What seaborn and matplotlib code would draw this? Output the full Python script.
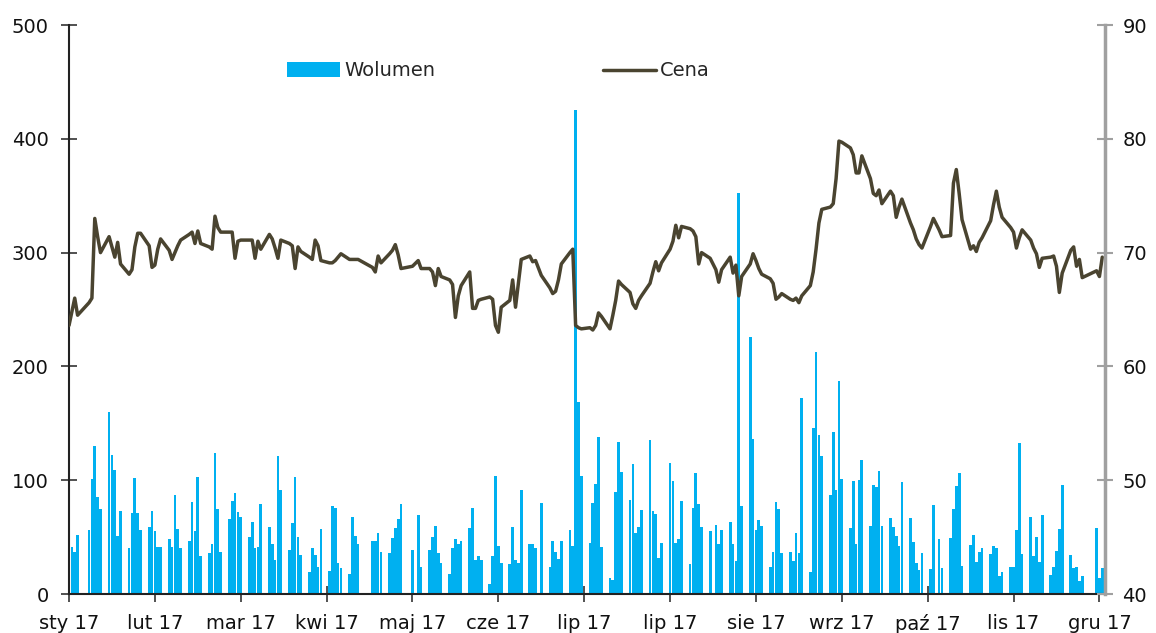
import numpy as np
import pandas as pd
import seaborn as sns
import matplotlib.pyplot as plt
import matplotlib.dates as mdates
from matplotlib.patches import Patch
from matplotlib.lines import Line2D

# trading days 2017 (GPW holidays removed)
holidays = ["2017-01-06", "2017-04-14", "2017-04-17", "2017-05-01", "2017-05-03",
            "2017-06-15", "2017-08-15", "2017-11-01", "2017-12-25", "2017-12-26"]

# daily volume, one row per week
volume = [
    7, 41, 37, 52,
    56, 101, 130, 85, 75,
    160, 122, 109, 51, 73,
    40, 71, 102, 71, 56,
    59, 73, 55, 41, 41,
    48, 41, 87, 57, 40,
    47, 81, 55, 103, 33,
    36, 44, 124, 75, 37,
    66, 82, 89, 72, 68,
    50, 63, 40, 41, 79,
    59, 44, 30, 121, 91,
    39, 62, 103, 50, 34,
    19, 40, 34, 24, 57,
    20, 77, 76, 27, 23,
    18, 68, 51, 44,
    47, 47, 54, 37,
    36, 49, 58, 66, 79,
    39, 69, 24,
    39, 50, 60, 36, 27,
    18, 40, 48, 44, 47,
    58, 76, 30, 33, 30,
    9, 33, 104, 42, 27,
    26, 59, 30, 27, 91,
    44, 44, 40, 80,
    24, 47, 37, 31, 47,
    56, 42, 425, 169, 104,
    45, 80, 97, 138, 41,
    14, 12, 90, 134, 107,
    83, 114, 54, 59, 74,
    135, 73, 70, 32, 45,
    115, 99, 45, 48, 82,
    26, 76, 106, 79, 59,
    55, 61, 44, 56,
    63, 44, 29, 352, 77,
    226, 136, 56, 65, 60,
    24, 37, 81, 75, 36,
    37, 29, 54, 36, 172,
    19, 146, 213, 140, 121,
    87, 142, 91, 187, 101,
    58, 99, 44, 100, 118,
    60, 96, 94, 108, 60,
    67, 59, 51, 42, 98,
    67, 46, 27, 21, 36,
    22, 78, 48, 23,
    49, 75, 95, 106, 25,
    43, 52, 28, 37, 40,
    35, 42, 40, 16, 19,
    24, 24, 56, 133, 35,
    68, 33, 50, 28, 69,
    17, 24, 38, 57, 96,
    34, 23, 24, 11, 16,
    58, 14, 23,
]

# daily price, one row per week
price = [
    63.6, 64.8, 66.0, 64.5,
    65.6, 66.0, 73.0, 71.4, 70.0,
    71.4, 70.5, 69.6, 70.9, 69.0,
    68.1, 68.5, 70.5, 71.7, 71.7,
    70.6, 68.7, 68.9, 70.3, 71.2,
    70.2, 69.4, 70.0, 70.6, 71.1,
    71.6, 71.8, 70.8, 71.9, 70.8,
    70.5, 70.3, 73.2, 72.2, 71.8,
    71.8, 71.8, 69.5, 71.0, 71.1,
    71.1, 71.1, 69.5, 71.0, 70.3,
    71.6, 71.2, 70.4, 69.5, 71.1,
    70.8, 70.6, 68.6, 70.5, 70.1,
    69.6, 69.4, 71.1, 70.6, 69.3,
    69.1, 69.1, 69.3, 69.6, 69.9,
    69.4, 69.4, 69.4, 69.4,
    68.7, 68.3, 69.7, 69.1,
    69.9, 70.2, 70.7, 69.8, 68.6,
    68.8, 69.3, 68.6,
    68.6, 68.3, 67.1, 68.6, 67.9,
    67.6, 67.2, 64.3, 66.2, 67.1,
    68.3, 65.1, 65.1, 65.8, 65.9,
    66.1, 65.9, 63.6, 63.0, 65.2,
    65.8, 67.6, 65.2, 67.3, 69.4,
    69.7, 69.2, 69.3, 68.0,
    66.9, 66.4, 66.6, 67.6, 69.0,
    70.0, 70.3, 63.6, 63.4, 63.3,
    63.4, 63.2, 63.6, 64.7, 64.4,
    63.3, 64.5, 65.8, 67.5, 67.2,
    66.5, 65.5, 65.1, 65.8, 66.2,
    67.3, 68.3, 69.2, 68.4, 69.1,
    70.3, 71.0, 72.4, 71.3, 72.3,
    72.1, 71.9, 71.4, 69.0, 70.0,
    69.5, 68.5, 67.4, 68.5,
    69.6, 68.2, 68.9, 66.2, 67.9,
    69.0, 69.9, 69.3, 68.6, 68.1,
    67.7, 67.3, 65.9, 66.1, 66.4,
    65.9, 65.8, 66.0, 65.6, 66.2,
    67.1, 68.3, 70.3, 72.6, 73.8,
    74.0, 74.3, 76.5, 79.8, 79.7,
    79.2, 78.6, 77.0, 77.0, 78.5,
    76.5, 75.2, 75.0, 75.5, 74.3,
    75.4, 75.0, 73.1, 74.0, 74.7,
    72.6, 72.0, 71.2, 70.7, 70.4,
    72.3, 73.0, 72.0, 71.4,
    71.5, 76.1, 77.3, 75.2, 72.9,
    70.3, 70.6, 70.1, 70.9, 71.3,
    72.8, 74.2, 75.4, 74.0, 73.1,
    72.2, 71.8, 70.4, 71.3, 72.0,
    71.1, 70.4, 69.9, 68.7, 69.5,
    69.6, 69.7, 68.8, 66.5, 68.2,
    70.2, 70.5, 68.8, 69.4, 67.8,
    68.4, 67.9, 69.6,
]

months_pl = ["sty", "lut", "mar", "kwi", "maj", "cze", "lip", "sie", "wrz", "paź", "lis", "gru"]

dates = pd.bdate_range("2017-01-02", "2017-12-29")
dates = dates[~dates.isin(pd.to_datetime(holidays))]
df = pd.DataFrame({"date": dates, "volume": volume, "price": price})
df["x"] = mdates.date2num(df["date"])

bar_color = "#00B0F0"
line_color = "#4A4430"

sns.set_style("ticks")
plt.rcParams["font.family"] = ["DejaVu Sans"]

fig, ax = plt.subplots(figsize=(11.56, 6.33), dpi=100)
fig.subplots_adjust(left=0.0597, right=0.956, top=0.9605, bottom=0.0616)

sns.barplot(data=df, x="x", y="volume", native_scale=True, width=0.95,
            color=bar_color, saturation=1, errorbar=None, linewidth=0, ax=ax)

ax2 = ax.twinx()
sns.lineplot(data=df, x="x", y="price", color=line_color, linewidth=2.5,
             legend=False, ax=ax2)

x0 = mdates.date2num(pd.Timestamp("2017-01-02"))
x1 = mdates.date2num(pd.Timestamp("2017-12-30"))
ax.set_xlim(x0, x1)
ax.set_ylim(0, 500)
ax.set_yticks(range(0, 501, 100))
ax2.set_ylim(40, 90)
ax2.set_yticks(range(40, 91, 10))

tick_dates = [pd.Timestamp("2017-01-02") + pd.Timedelta(days=30 * i) for i in range(13)]
ax.set_xticks(mdates.date2num(tick_dates))
ax.set_xticklabels([f"{months_pl[d.month - 1]} {d:%y}" for d in tick_dates])

for a in (ax, ax2):
    a.set_xlabel("")
    a.set_ylabel("")
    a.spines["top"].set_visible(False)

ax.spines["left"].set_color("#222222")
ax.spines["left"].set_linewidth(1.5)
ax.spines["bottom"].set_color("#222222")
ax.spines["bottom"].set_linewidth(1.5)
ax.spines["right"].set_visible(False)
ax2.spines["left"].set_visible(False)
ax2.spines["bottom"].set_visible(False)
ax2.spines["right"].set_color("#A0A0A0")
ax2.spines["right"].set_linewidth(2.5)

ax.tick_params(axis="y", direction="inout", length=11, width=1.2, color="#333333",
               labelsize=14, pad=9, labelcolor="#111111")
ax.tick_params(axis="x", direction="inout", length=11, width=1.2, color="#333333",
               labelsize=14, pad=9, labelcolor="#111111")
ax2.tick_params(axis="y", direction="inout", length=11, width=1.5, color="#A0A0A0",
                labelsize=14, pad=7, labelcolor="#111111")

ax2.set_zorder(ax.get_zorder() + 1)
ax2.patch.set_visible(False)

h_vol = Patch(facecolor=bar_color, edgecolor="none")
h_price = Line2D([], [], color=line_color, linewidth=2.5)
leg1 = ax2.legend([h_vol], ["Wolumen"], loc="upper left", bbox_to_anchor=(0.21, 0.936),
                  frameon=False, fontsize=14, handlelength=2.75, handleheight=0.85,
                  handletextpad=0.2, borderpad=0, borderaxespad=0)
ax2.add_artist(leg1)
ax2.legend([h_price], ["Cena"], loc="upper left", bbox_to_anchor=(0.515, 0.936),
           frameon=False, fontsize=14, handlelength=2.75, handletextpad=0.2,
           borderpad=0, borderaxespad=0)

plt.savefig("out.png", dpi=100)
